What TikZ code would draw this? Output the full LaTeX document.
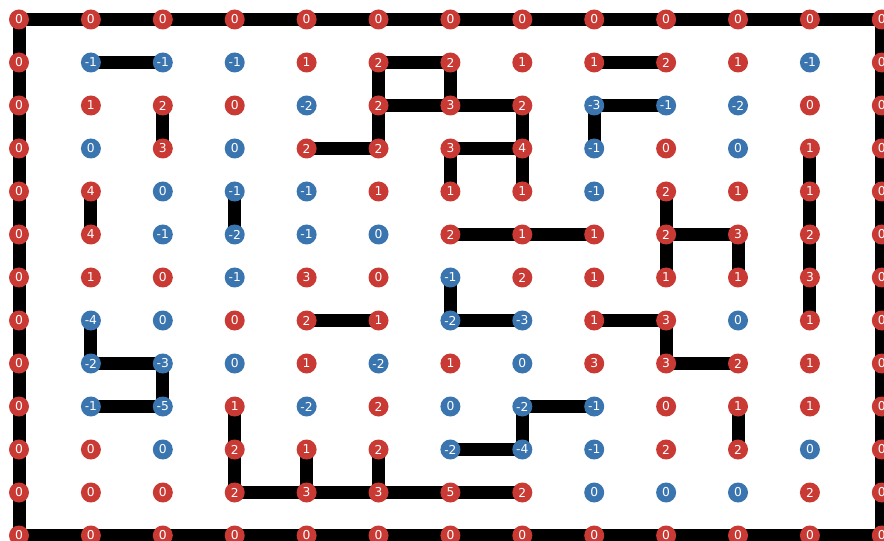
\documentclass[tikz,border=0pt]{standalone}
\usepackage{fontspec}
\setsansfont{DejaVu Sans}
\usepackage{tikz}
\usetikzlibrary{backgrounds}
\definecolor{r}{RGB}{201,58,52}
\definecolor{b}{RGB}{58,117,176}

\begin{document}
\begin{tikzpicture}[
    x=0.75pt, y=-0.75pt,
    dot/.style={circle, fill=#1, draw=none, minimum size=15pt, inner sep=0pt,
                text=white, font=\sffamily\fontsize{9.2}{9.2}\selectfont},
    link/.style={black, line width=9.75pt}
]

\useasboundingbox (0,0) rectangle (884,541);

% ================= GRID OF NODES =================
% one list per row, value/colour
\foreach \vals [count=\rr from 0] in {
    {0/r,0/r,0/r,0/r,0/r,0/r,0/r,0/r,0/r,0/r,0/r,0/r,0/r},
    {0/r,-1/b,-1/b,-1/b,1/r,2/r,2/r,1/r,1/r,2/r,1/r,-1/b,0/r},
    {0/r,1/r,2/r,0/r,-2/b,2/r,3/r,2/r,-3/b,-1/b,-2/b,0/r,0/r},
    {0/r,0/b,3/r,0/b,2/r,2/r,3/r,4/r,-1/b,0/r,0/b,1/r,0/r},
    {0/r,4/r,0/b,-1/b,-1/b,1/r,1/r,1/r,-1/b,2/r,1/r,1/r,0/r},
    {0/r,4/r,-1/b,-2/b,-1/b,0/b,2/r,1/r,1/r,2/r,3/r,2/r,0/r},
    {0/r,1/r,0/r,-1/b,3/r,0/r,-1/b,2/r,1/r,1/r,1/r,3/r,0/r},
    {0/r,-4/b,0/b,0/r,2/r,1/r,-2/b,-3/b,1/r,3/r,0/b,1/r,0/r},
    {0/r,-2/b,-3/b,0/b,1/r,-2/b,1/r,0/b,3/r,3/r,2/r,1/r,0/r},
    {0/r,-1/b,-5/b,1/r,-2/b,2/r,0/b,-2/b,-1/b,0/r,1/r,1/r,0/r},
    {0/r,0/r,0/b,2/r,1/r,2/r,-2/b,-4/b,-1/b,2/r,2/r,0/b,0/r},
    {0/r,0/r,0/r,2/r,3/r,3/r,5/r,2/r,0/b,0/b,0/b,2/r,0/r},
    {0/r,0/r,0/r,0/r,0/r,0/r,0/r,0/r,0/r,0/r,0/r,0/r,0/r}%
}{
    \foreach \v/\s [count=\cc from 0] in \vals
        \node[dot=\s] (n-\rr-\cc) at ({19+71.9*\cc}, {19.5+43*\rr}) {\v};
}

% ================= LINKS =================
\begin{scope}[on background layer]
% Outer frame
\draw[link] (n-0-0.center) -- (n-0-12.center) -- (n-12-12.center)
    -- (n-12-0.center) -- cycle;

% Top part
\draw[link] (n-1-1.center) -- (n-1-2.center);
\draw[link] (n-2-2.center) -- (n-3-2.center);
\draw[link] (n-3-4.center) -- (n-3-5.center) -- (n-1-5.center)
    -- (n-1-6.center) -- (n-2-6.center);
\draw[link] (n-2-5.center) -- (n-2-7.center) -- (n-4-7.center);
\draw[link] (n-3-6.center) -- (n-3-7.center);
\draw[link] (n-3-6.center) -- (n-4-6.center);
\draw[link] (n-1-8.center) -- (n-1-9.center);
\draw[link] (n-3-8.center) -- (n-2-8.center) -- (n-2-9.center);
\draw[link] (n-3-11.center) -- (n-7-11.center);

% Middle part
\draw[link] (n-4-1.center) -- (n-5-1.center);
\draw[link] (n-4-3.center) -- (n-5-3.center);
\draw[link] (n-5-6.center) -- (n-5-8.center);
\draw[link] (n-4-9.center) -- (n-6-9.center);
\draw[link] (n-5-9.center) -- (n-5-10.center) -- (n-6-10.center);
\draw[link] (n-6-6.center) -- (n-7-6.center) -- (n-7-7.center);
\draw[link] (n-7-4.center) -- (n-7-5.center);
\draw[link] (n-7-8.center) -- (n-7-9.center) -- (n-8-9.center)
    -- (n-8-10.center);

% Bottom part
\draw[link] (n-7-1.center) -- (n-8-1.center) -- (n-8-2.center)
    -- (n-9-2.center) -- (n-9-1.center);
\draw[link] (n-9-8.center) -- (n-9-7.center) -- (n-10-7.center)
    -- (n-10-6.center);
\draw[link] (n-9-10.center) -- (n-10-10.center);
\draw[link] (n-9-3.center) -- (n-11-3.center) -- (n-11-7.center);
\draw[link] (n-10-4.center) -- (n-11-4.center);
\draw[link] (n-10-5.center) -- (n-11-5.center);
\end{scope}

\end{tikzpicture}
\end{document}
